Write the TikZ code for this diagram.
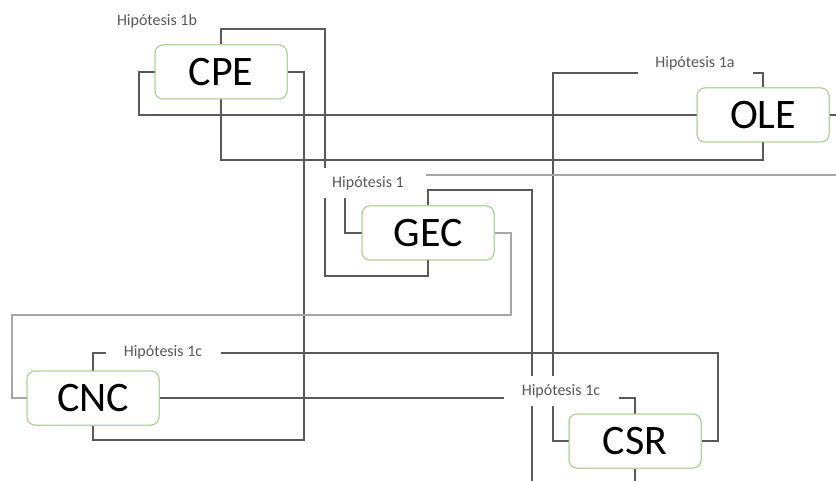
\documentclass[tikz,border=0pt]{standalone}
\usepackage{fontspec}
\setmainfont{Carlito}
\definecolor{lineg}{HTML}{595959}
\definecolor{lightl}{HTML}{A6A6A6}
\definecolor{boxg}{HTML}{A9D18E}
\definecolor{lblg}{HTML}{595959}
\begin{document}
\begin{tikzpicture}[x=1pt,y=-1pt,
  conn/.style={draw=lineg,line width=1.2pt},
  connlight/.style={draw=lightl,line width=1.8pt},
  boxnode/.style={draw=boxg,line width=1pt,fill=white,rounded corners=8pt,minimum width=132pt,minimum height=54pt,inner sep=0pt,font=\fontsize{42}{42}\selectfont},
  hyplabel/.style={fill=white,minimum width=115pt,minimum height=30pt,inner sep=0pt,text=lblg,font=\fontsize{16}{16}\selectfont}]
\useasboundingbox (0,0) rectangle (836,481);
% boxes
\node[boxnode] (cpe) at (221,72) {CPE};
\node[boxnode] (ole) at (763,115) {OLE};
\node[boxnode] (gec) at (428,233) {GEC};
\node[boxnode] (cnc) at (93,398) {CNC};
\node[boxnode] (csr) at (635,441) {CSR};
% free ends
\coordinate (gecend) at (532,481);
\coordinate (csrend) at (635,481);
\coordinate (oleend) at (836,115);
\coordinate (lsa) at (400,175);
\coordinate (lsb) at (836,175);
\coordinate (h1in) at (345,185);
% connectors
\path[conn] (cpe.north) |- (325,29) -- (325,276) -| (gec.south);
\path[conn] (cpe.west) -- (139,72) |- (ole.west);
\path[conn] (cpe.south) -- (221,160) -| (ole.south);
\path[conn] (cpe.east) -| (304,440) -| (cnc.south);
\path[conn] (ole.north) |- (553,73) |- (csr.west);
\path[conn] (gec.north) -- (428,190) -| (gecend);
\path[connlight] (gec.east) -| (511,315) -| (12,398) -- (cnc.west);
\path[conn] (gec.west) -| (h1in);
\path[conn] (cnc.north) |- (718,353) |- (csr.east);
\path[conn] (cnc.east) -| (csr.north);
\path[conn] (csr.south) -- (csrend);
\path[conn] (ole.east) -- (oleend);
\path[connlight] (lsa) -- (lsb);
% labels
\node[hyplabel] (h1a) at (695,63) {Hipótesis 1a};
\node[hyplabel] (h1b) at (157,21) {Hipótesis 1b};
\node[hyplabel] (h1) at (368,183) {Hipótesis 1};
\node[hyplabel] (h1c) at (163,352) {Hipótesis 1c};
\node[hyplabel] (h1cc) at (561,391) {Hipótesis 1c};
% boxes on top
\node[boxnode] at (cpe) {CPE};
\node[boxnode] at (ole) {OLE};
\node[boxnode] at (gec) {GEC};
\node[boxnode] at (cnc) {CNC};
\node[boxnode] at (csr) {CSR};
\end{tikzpicture}
\end{document}
